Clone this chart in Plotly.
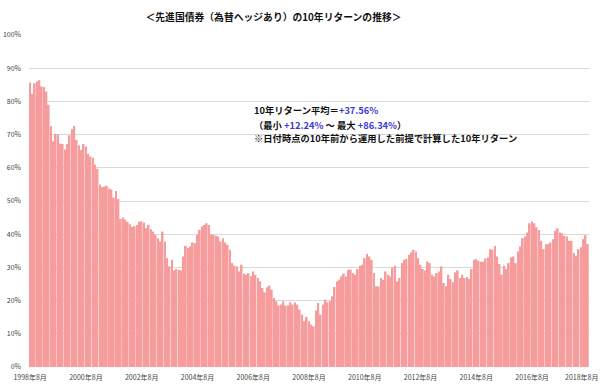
import plotly.graph_objects as go

# Monthly 10-year return (%) from 1998-08 to 2018-08 (241 months)
returns_1998_2002 = [
    85.7, 82.3, 85.5, 86.0, 86.34, 84.5, 84.3, 83.0, 79.0, 72.5, 68.0, 70.2,
    70.0, 67.3, 67.2, 65.5, 67.2, 69.8, 71.6, 72.6, 68.4, 66.8, 65.4, 67.2,
    66.4, 64.2, 63.4, 63.0, 61.0, 59.7, 55.0, 54.2, 54.3, 54.6, 53.8, 53.5,
    51.0, 53.0, 50.6, 44.6, 45.0, 44.4, 43.7, 43.0, 42.2, 42.4, 42.8, 43.8,
]
returns_2002_2006 = [
    43.8, 43.5, 41.8, 42.8, 41.5, 40.8, 39.8, 38.8, 37.8, 40.8, 37.8, 32.8,
    30.3, 32.3, 29.1, 29.5, 29.3, 29.1, 33.3, 36.5, 35.8, 36.3, 37.5, 37.3,
    39.8, 41.3, 42.3, 42.8, 43.3, 42.8, 40.0, 39.8, 39.5, 39.3, 37.8, 38.8,
    37.5, 36.8, 35.3, 31.3, 30.5, 30.3, 28.8, 30.8, 28.1, 27.8, 28.3, 27.3,
]
returns_2006_2010 = [
    28.8, 27.8, 26.8, 25.8, 23.8, 22.5, 24.0, 24.5, 23.3, 20.8, 19.8, 18.5,
    18.8, 19.8, 18.5, 18.5, 19.5, 18.8, 19.4, 18.8, 17.3, 15.8, 13.8, 15.1,
    13.8, 12.8, 12.24, 17.0, 19.3, 15.8, 18.8, 20.3, 19.5, 19.8, 21.3, 24.1,
    25.8, 26.3, 27.3, 28.1, 27.3, 29.3, 29.3, 28.3, 27.8, 29.5, 30.5, 30.8,
]
returns_2010_2014 = [
    32.8, 34.1, 33.3, 32.3, 28.3, 24.3, 24.3, 26.8, 26.3, 28.8, 27.8, 27.3,
    30.0, 30.5, 25.8, 26.8, 31.3, 32.3, 32.5, 33.8, 34.5, 35.3, 34.8, 32.8,
    30.8, 29.5, 29.1, 31.8, 31.3, 27.8, 27.3, 28.3, 28.8, 30.3, 25.3, 24.3,
    27.8, 26.5, 25.5, 28.5, 29.1, 26.8, 27.8, 26.8, 27.1, 26.5, 29.5, 32.3,
]
returns_2014_2018 = [
    32.5, 32.0, 31.7, 31.7, 32.7, 33.0, 35.5, 35.3, 36.5, 33.3, 31.0, 27.8,
    30.5, 29.5, 31.3, 33.0, 33.3, 31.3, 34.8, 36.3, 38.8, 39.3, 40.5, 43.3,
    43.8, 43.3, 42.1, 41.3, 38.0, 35.5, 37.0, 37.0, 37.5, 38.5, 41.0, 41.8,
    40.5, 40.3, 39.5, 39.3, 38.0, 38.0, 34.3, 33.5, 35.5, 36.1, 38.5, 39.7,
    37.0,
]
returns = (returns_1998_2002 + returns_2002_2006 + returns_2006_2010
           + returns_2010_2014 + returns_2014_2018)

start_year, start_month = 1998, 8
months = []
for k in range(len(returns)):
    m = start_month - 1 + k
    months.append(f"{start_year + m // 12}年{m % 12 + 1}月")

tick_labels = ["1998年8月", "2000年8月", "2002年8月", "2004年8月", "2006年8月",
               "2008年8月", "2010年8月", "2012年8月", "2014年8月", "2016年8月",
               "2018年8月"]
y_ticks = list(range(0, 101, 10))
y_tick_labels = [f"{v}%" for v in y_ticks]

title_text = "＜先進国債券（為替ヘッジあり）の10年リターンの推移＞"
avg_text = "10年リターン平均＝<span style='color:#3a3ad6'>+37.56%</span>"
range_text = ("（最小 <span style='color:#3a3ad6'>+12.24%</span> ～ 最大 "
              "<span style='color:#3a3ad6'>+86.34%</span>）")
note_text = "※日付時点の10年前から運用した前提で計算した10年リターン"

x_idx = list(range(len(returns)))
tick_idx = [months.index(t) for t in tick_labels]

fig = go.Figure(go.Bar(
    x=x_idx, y=returns,
    marker=dict(color="#F79C9C", line=dict(width=0)),
    hovertext=months,
))

font_main = "Noto Sans CJK JP"
tick_font = dict(size=7, color="#444", family=font_main)
fig.update_layout(
    width=600, height=390,
    margin=dict(l=29, r=11, t=35, b=23),
    paper_bgcolor="white", plot_bgcolor="white",
    bargap=0.25,
    showlegend=False,
    font=dict(family=font_main, color="#222"),
    title=dict(text=f"<b>{title_text}</b>", x=262/600, xanchor="center",
               xref="paper", y=1 - 18/390, yanchor="middle", yref="container",
               font=dict(size=9.8, family=font_main, color="#111")),
    xaxis=dict(range=[-0.5, len(returns) - 0.5], tickmode="array",
               tickvals=tick_idx[:-1], ticktext=tick_labels[:-1], showgrid=False,
               tickfont=tick_font, ticks="", showline=False,
               zeroline=False, ticklabelstandoff=5, automargin=False),
    yaxis=dict(range=[0, 100], tickmode="array", tickvals=y_ticks,
               ticktext=y_tick_labels, showgrid=True, gridcolor="#D9D9D9",
               gridwidth=1, tickfont=tick_font, ticks="",
               zeroline=False, showline=False, ticklabelstandoff=7,
               automargin=False),
)

# last date label placed flush with the right edge so it is not clipped
fig.add_annotation(
    text=tick_labels[-1], xref="paper", yref="paper",
    x=1 + 10.5 / 560, y=0, yshift=-3, xanchor="right", yanchor="top",
    showarrow=False, font=tick_font,
)

x0 = (252 - 29) / 560
for txt, ypix in [(avg_text, 110), (range_text, 125), (note_text, 138)]:
    fig.add_annotation(
        text=f"<b>{txt}</b>", xref="paper", yref="paper",
        x=x0, y=(367 - ypix) / 332, xanchor="left", yanchor="middle",
        showarrow=False, align="left",
        font=dict(size=9.3, family=font_main, color="#111"),
    )

fig.write_html("out.html")
